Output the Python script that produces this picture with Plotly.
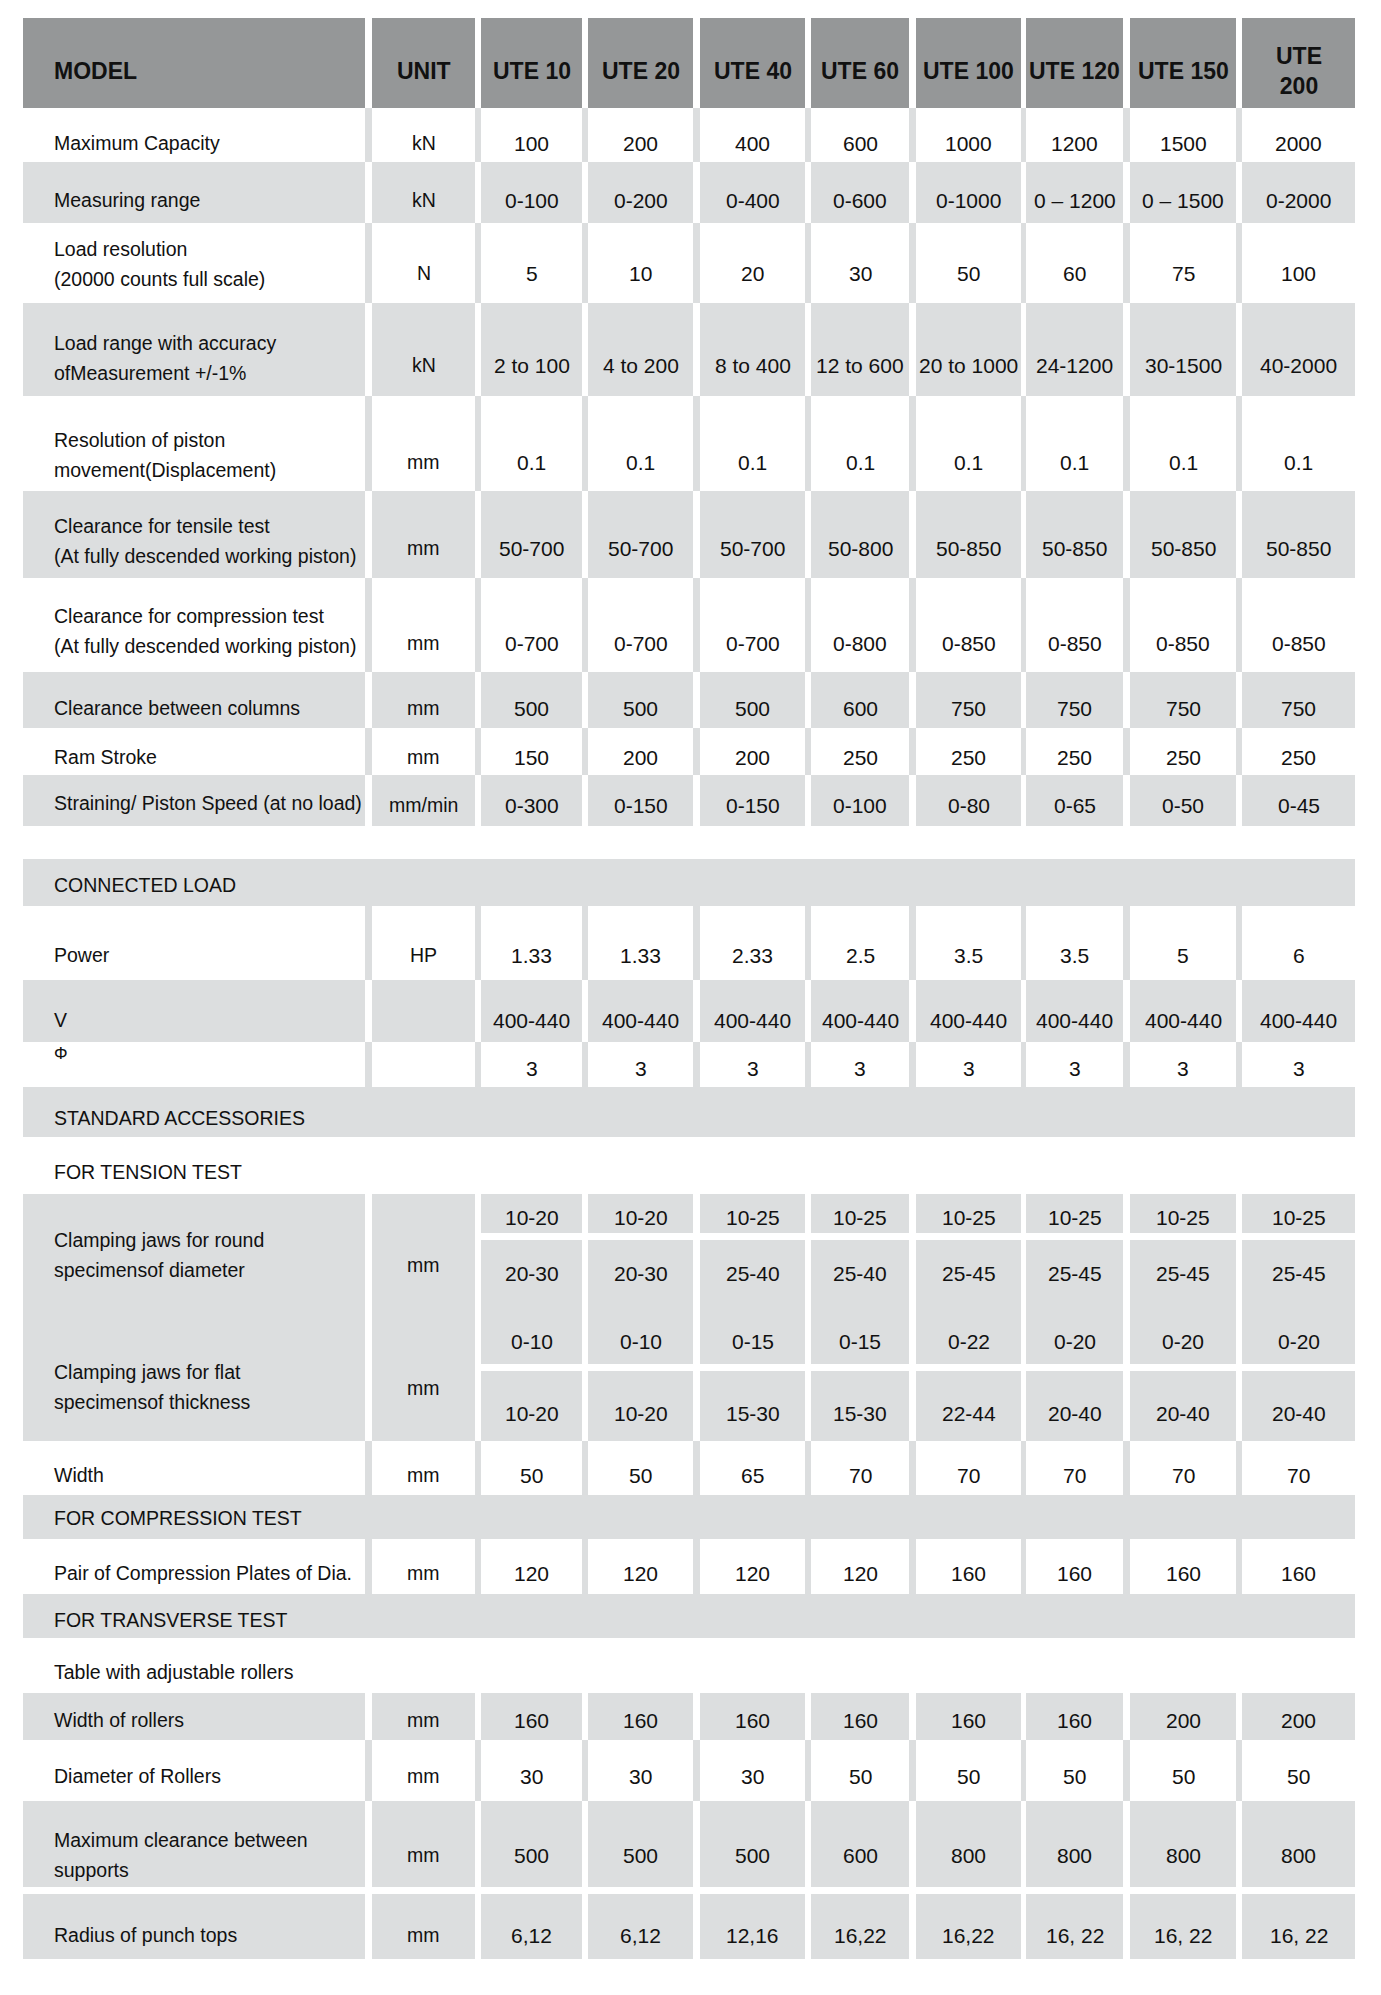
import plotly.graph_objects as go

# ---- data ---------------------------------------------------------------
MODELS = ['UTE 10', 'UTE 20', 'UTE 40', 'UTE 60', 'UTE 100', 'UTE 120', 'UTE 150', 'UTE<br>200']

MAX_CAPACITY = ['100', '200', '400', '600', '1000', '1200', '1500', '2000']
MEASURING_RANGE = ['0-100', '0-200', '0-400', '0-600', '0-1000', '0 – 1200', '0 – 1500', '0-2000']
LOAD_RESOLUTION = ['5', '10', '20', '30', '50', '60', '75', '100']
LOAD_RANGE = ['2 to 100', '4 to 200', '8 to 400', '12 to 600', '20 to 1000', '24-1200', '30-1500', '40-2000']
PISTON_RESOLUTION = ['0.1'] * 8
TENSILE_CLEARANCE = ['50-700', '50-700', '50-700', '50-800', '50-850', '50-850', '50-850', '50-850']
COMPRESSION_CLEARANCE = ['0-700', '0-700', '0-700', '0-800', '0-850', '0-850', '0-850', '0-850']
COLUMN_CLEARANCE = ['500', '500', '500', '600', '750', '750', '750', '750']
RAM_STROKE = ['150', '200', '200', '250', '250', '250', '250', '250']
PISTON_SPEED = ['0-300', '0-150', '0-150', '0-100', '0-80', '0-65', '0-50', '0-45']

POWER = ['1.33', '1.33', '2.33', '2.5', '3.5', '3.5', '5', '6']
VOLTAGE = ['400-440'] * 8
PHASE = ['3'] * 8

ROUND_JAWS_1 = ['10-20', '10-20', '10-25', '10-25', '10-25', '10-25', '10-25', '10-25']
ROUND_JAWS_2 = ['20-30', '20-30', '25-40', '25-40', '25-45', '25-45', '25-45', '25-45']
FLAT_JAWS_1 = ['0-10', '0-10', '0-15', '0-15', '0-22', '0-20', '0-20', '0-20']
FLAT_JAWS_2 = ['10-20', '10-20', '15-30', '15-30', '22-44', '20-40', '20-40', '20-40']
JAW_WIDTH = ['50', '50', '65', '70', '70', '70', '70', '70']

PLATE_DIA = ['120', '120', '120', '120', '160', '160', '160', '160']

ROLLER_WIDTH = ['160', '160', '160', '160', '160', '160', '200', '200']
ROLLER_DIA = ['30', '30', '30', '50', '50', '50', '50', '50']
SUPPORT_CLEARANCE = ['500', '500', '500', '600', '800', '800', '800', '800']
PUNCH_RADIUS = ['6,12', '6,12', '12,16', '16,22', '16,22', '16, 22', '16, 22', '16, 22']

# ---- layout -------------------------------------------------------------
FONT = 'Liberation Sans, Arial, Helvetica, sans-serif'
HEAD = '#959798'
LIGHT = '#dcdedf'
INK = '#111111'
LABEL_SIZE, VALUE_SIZE, HEAD_SIZE = 19.5, 21, 23
LINE_GAP = 30
PAGE_PAD = 8   # default body margin of the html page

LEFT, TOP = 23, 18
COL_W = [342, 103, 101, 105, 105, 98, 105, 97, 106, 113]
GAP = [7, 6, 6, 7, 6, 7, 5, 7, 6]
X0 = []
x = LEFT
for i, w in enumerate(COL_W):
    X0.append(x)
    x += w + (GAP[i] if i < len(GAP) else 0)
X1 = [a + w for a, w in zip(X0, COL_W)]
LABEL_X = LEFT + 29

# (style, height, label, unit, values, label offset, value offset)
ROWS = [
    ('head', 90, 'MODEL', 'UNIT', MODELS, 53, 53),
    ('white', 54, 'Maximum Capacity', 'kN', MAX_CAPACITY, 35, 35),
    ('gray', 61, 'Measuring range', 'kN', MEASURING_RANGE, 38, 38),
    ('white', 80, 'Load resolution<br>(20000 counts full scale)', 'N', LOAD_RESOLUTION, 41, 50),
    ('gray', 93, 'Load range with accuracy<br>ofMeasurement +/-1%', 'kN', LOAD_RANGE, 55, 62),
    ('white', 95, 'Resolution of piston<br>movement(Displacement)', 'mm', PISTON_RESOLUTION, 59, 66),
    ('gray', 87, 'Clearance for tensile test<br>(At fully descended working piston)', 'mm', TENSILE_CLEARANCE, 50, 57),
    ('white', 94, 'Clearance for compression test<br>(At fully descended working piston)', 'mm', COMPRESSION_CLEARANCE, 53, 65),
    ('gray', 56, 'Clearance between columns', 'mm', COLUMN_CLEARANCE, 36, 36),
    ('white', 47, 'Ram Stroke', 'mm', RAM_STROKE, 29, 29),
    ('gray', 51, 'Straining/ Piston Speed (at no load)', 'mm/min', PISTON_SPEED, 28, 30),
    ('blank', 33, '', '', None, 0, 0),
    ('section', 47, 'CONNECTED LOAD', '', None, 26, 0),
    ('white', 74, 'Power', 'HP', POWER, 49, 49),
    ('gray', 62, 'V', '', VOLTAGE, 40, 40),
    ('white', 45, 'Φ', '', PHASE, 11, 26),
    ('section', 50, 'STANDARD ACCESSORIES', '', None, 31, 0),
    ('plain', 57, 'FOR TENSION TEST', '', None, 35, 0),
    ('clamp', 247, '', '', None, 0, 0),
    ('white', 54, 'Width', 'mm', JAW_WIDTH, 34, 34),
    ('section', 44, 'FOR COMPRESSION TEST', '', None, 23, 0),
    ('white', 55, 'Pair of Compression Plates of Dia.', 'mm', PLATE_DIA, 34, 34),
    ('section', 44, 'FOR TRANSVERSE TEST', '', None, 26, 0),
    ('plain', 55, 'Table with adjustable rollers', '', None, 34, 0),
    ('gray', 47, 'Width of rollers', 'mm', ROLLER_WIDTH, 27, 27),
    ('white', 61, 'Diameter of Rollers', 'mm', ROLLER_DIA, 36, 36),
    ('gray', 86, 'Maximum clearance between<br>supports', 'mm', SUPPORT_CLEARANCE, 54, 54),
    ('blank', 7, '', '', None, 0, 0),
    ('gray', 65, 'Radius of punch tops', 'mm', PUNCH_RADIUS, 41, 41),
]

# clamping block: value sub-cells (top offset, height, text offset) and labels
CLAMP_CELLS = [(0, 39, 23, ROUND_JAWS_1), (46, 124, 79, ROUND_JAWS_2),
               (46, 124, 147, FLAT_JAWS_1), (177, 70, 219, FLAT_JAWS_2)]
CLAMP_LABELS = [('Clamping jaws for round<br>specimensof diameter', 'mm', 61, 71),
                ('Clamping jaws for flat<br>specimensof thickness', 'mm', 193, 194)]

shapes, notes = [], []


def rect(x0, x1, y0, y1, color):
    shapes.append(dict(type='rect', xref='x', yref='y', x0=x0, x1=x1, y0=y0, y1=y1,
                       fillcolor=color, line_width=0, layer='below'))


def text(s, xpos, ypos, size=LABEL_SIZE, anchor='center', bold=False):
    notes.append(dict(text=f'<b>{s}</b>' if bold else s, x=xpos, y=ypos, xref='x', yref='y',
                      showarrow=False, xanchor=anchor, yanchor='middle', align='center',
                      font=dict(family=FONT, size=size, color=INK)))


def label(s, ypos, size=LABEL_SIZE):
    lines = s.split('<br>')
    for k, line in enumerate(lines):
        text(line, LABEL_X, ypos + (k - (len(lines) - 1) / 2) * LINE_GAP, size, 'left')


def centre(i):
    return (X0[i] + X1[i]) / 2


y = TOP
for style, h, lab, unit, vals, ly, vy in ROWS:
    if style == 'head':
        for i in range(len(COL_W)):
            rect(X0[i], X1[i], y, y + h, HEAD)
        text(lab, LABEL_X, y + ly, HEAD_SIZE, 'left', True)
        text(unit, centre(1), y + ly, HEAD_SIZE, bold=True)
        for j, v in enumerate(vals):
            text(v, centre(j + 2), y + vy, HEAD_SIZE, bold=True)
    elif style in ('white', 'gray'):
        if style == 'gray':
            for i in range(len(COL_W)):
                rect(X0[i], X1[i], y, y + h, LIGHT)
        else:
            for i in range(len(GAP)):
                rect(X1[i], X0[i + 1], y, y + h, LIGHT)
        label(lab, y + ly, 17 if lab == 'Φ' else LABEL_SIZE)
        if unit:
            text(unit, centre(1), y + vy, LABEL_SIZE)
        for j, v in enumerate(vals):
            text(v, centre(j + 2), y + vy, VALUE_SIZE)
    elif style == 'section':
        rect(X0[0], X1[-1], y, y + h, LIGHT)
        label(lab, y + ly)
    elif style == 'plain':
        label(lab, y + ly)
    elif style == 'clamp':
        rect(X0[0], X1[0], y, y + h, LIGHT)
        rect(X0[1], X1[1], y, y + h, LIGHT)
        for top, ch, ty, vals_ in CLAMP_CELLS:
            for j, v in enumerate(vals_):
                rect(X0[j + 2], X1[j + 2], y + top, y + top + ch, LIGHT)
                text(v, centre(j + 2), y + ty, VALUE_SIZE)
        for lab_, un, lyy, uy in CLAMP_LABELS:
            label(lab_, y + lyy)
            text(un, centre(1), y + uy, LABEL_SIZE)
    y += h

W, H = 1381 - 2 * PAGE_PAD, 1995 - 2 * PAGE_PAD
fig = go.Figure()
fig.add_trace(go.Scatter(x=[PAGE_PAD, PAGE_PAD + W], y=[PAGE_PAD, PAGE_PAD + H], mode='markers',
                         marker=dict(opacity=0), hoverinfo='skip', showlegend=False))
fig.update_layout(
    width=W, height=H,
    margin=dict(l=0, r=0, t=0, b=0),
    paper_bgcolor='white', plot_bgcolor='white',
    xaxis=dict(range=[PAGE_PAD, PAGE_PAD + W], visible=False, fixedrange=True),
    yaxis=dict(range=[PAGE_PAD + H, PAGE_PAD], visible=False, fixedrange=True),
    shapes=shapes, annotations=notes, showlegend=False,
)
fig.write_html('out.html')
